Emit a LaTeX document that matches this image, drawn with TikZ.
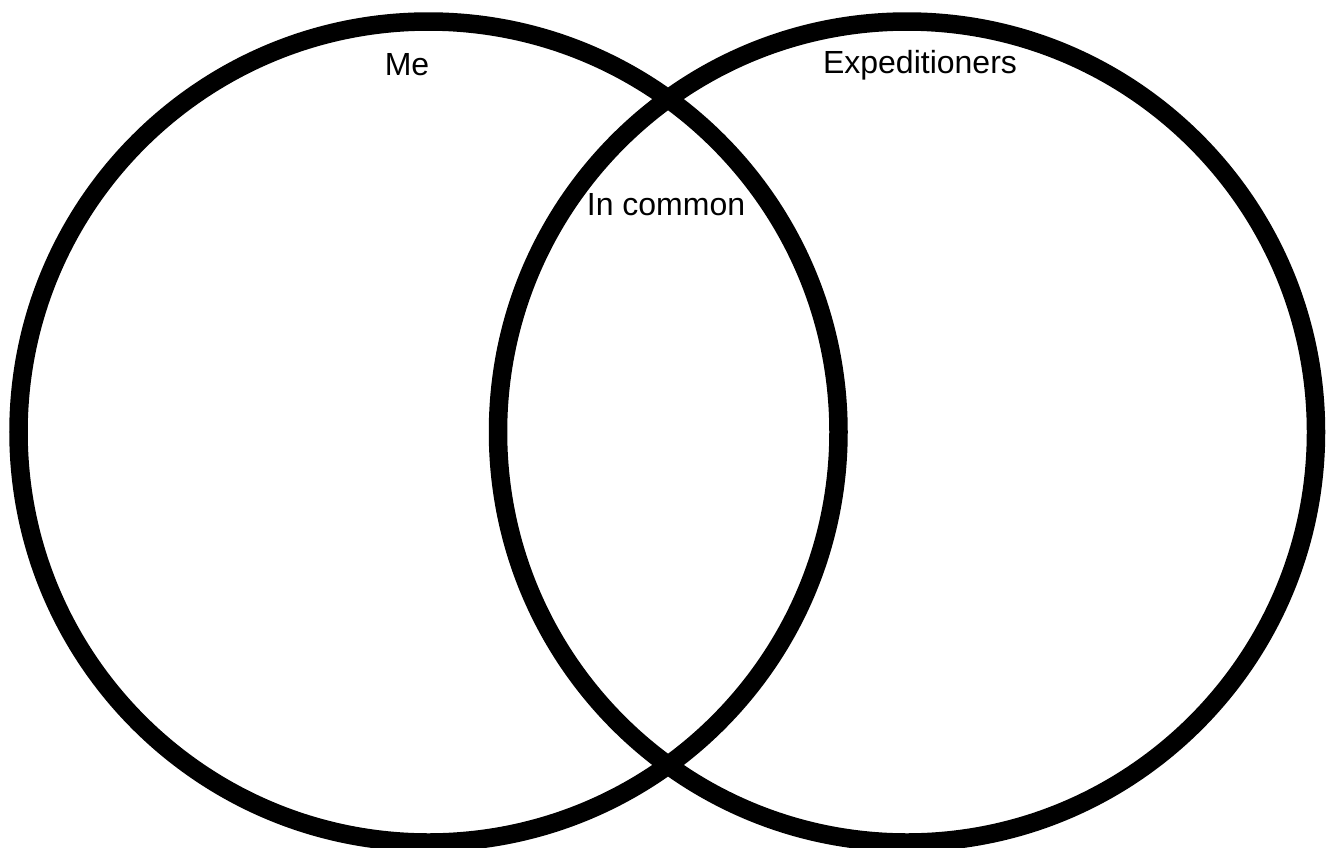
\documentclass[tikz,border=0pt]{standalone}
\usepackage{fontspec}
\setmainfont{Liberation Sans}
\begin{document}
\begin{tikzpicture}[x=1pt,y=-1pt,
  ring/.style={draw=black,line width=18.5pt},
  lbl/.style={font=\fontsize{32}{36}\selectfont,inner sep=0pt}]
\useasboundingbox[fill=white] (0,0) rectangle (1326,847);
\begin{scope}
\clip (0,0) rectangle (1326,847);
\draw[ring] (428.5,432) ellipse [x radius=410, y radius=410.5];
\draw[ring] (907,432) ellipse [x radius=409, y radius=410.5];
\end{scope}
\node[lbl] (me) at (407,65) {Me};
\node[lbl] (ex) at (920,65) {Expeditioners};
\node[lbl] (ic) at (666,205) {In common};
\end{tikzpicture}
\end{document}
